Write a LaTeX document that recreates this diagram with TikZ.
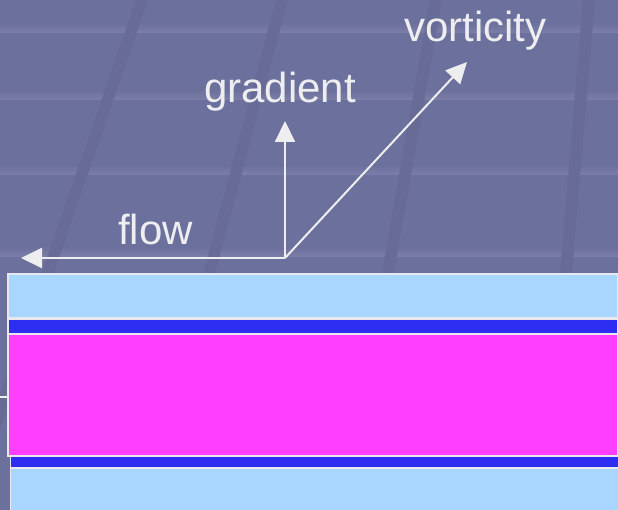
\documentclass[tikz,border=0pt]{standalone}
\usepackage{fontspec}
\setmainfont{Liberation Sans}
\usetikzlibrary{arrows.meta}
\definecolor{slate}{RGB}{108,112,156}
\definecolor{slatelight}{RGB}{122,126,168}
\definecolor{slatedark}{RGB}{103,107,150}
\definecolor{rim}{RGB}{232,232,238}
\definecolor{skyfill}{RGB}{168,214,254}
\definecolor{bandblue}{RGB}{46,46,242}
\definecolor{coremag}{RGB}{255,62,255}
\definecolor{ink}{RGB}{238,238,240}
\tikzset{
  vec/.style={draw=ink, line width=2pt, -{Triangle[length=21pt,width=20pt]}},
  lbl/.style={text=ink, font=\fontsize{42}{50}\selectfont, anchor=base, inner sep=0pt},
  layer/.style={draw=none},
}
\begin{document}
\begin{tikzpicture}[x=1pt,y=-1pt]
\useasboundingbox (0,0) rectangle (618,510);
% slide backdrop with faint texture
\fill[slate] (0,0) rectangle (618,510);
\foreach \yy in {33,100,175,257} {
  \shade[top color=slate, bottom color=slatelight] (0,\yy-10) rectangle (618,\yy);
}
\foreach \xa/\xb in {136/-40, 276/140, 430/340, 583/540} {
  \fill[slatedark] (\xa,0) -- (\xa+12,0) -- (\xb+12,510) -- (\xb,510) -- cycle;
}
% stacked layers: upper group
\fill[rim] (7,273) rectangle (618,456.5);
\fill[layer, skyfill] (8.5,275) rectangle (616.5,317.3);
\fill[layer, bandblue] (8.5,320) rectangle (616.5,332.7);
\fill[layer, coremag] (8.5,335.3) rectangle (616.5,455.3);
% lower group
\fill[rim] (9.5,456.5) rectangle (618,510);
\fill[layer, bandblue] (10.5,457) rectangle (618,466.7);
\fill[layer, skyfill] (10.5,468.7) rectangle (618,510);
% short tick at the left edge
\coordinate (tickA) at (0,397);
\coordinate (tickB) at (7,397);
\draw[ink, line width=1.5pt] (tickA) -- (tickB);
% axes
\coordinate (o) at (285,258);
\coordinate (flowtip) at (21,258);
\coordinate (gradtip) at (285,121);
\coordinate (vorttip) at (467,62);
\draw[vec] (o) -- (flowtip);
\draw[vec] (o) -- (gradtip);
\draw[vec] (o) -- (vorttip);
\node[lbl] (flow) at (155.5,245) {flow};
\node[lbl] (gradient) at (280,103) {gradient};
\node[lbl] (vorticity) at (475.5,42) {vorticity};
\end{tikzpicture}
\end{document}
